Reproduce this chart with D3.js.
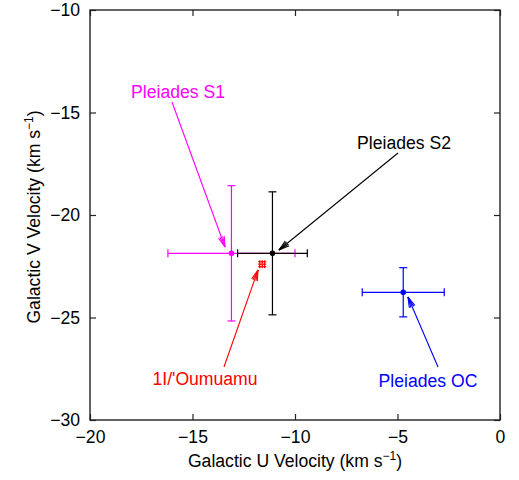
<!DOCTYPE html>
<html><head><meta charset="utf-8">
<script src="https://cdn.jsdelivr.net/npm/d3@7"></script>
<style>body{margin:0;background:#fff}svg{display:block}text{font-family:"Liberation Sans",Arial,Helvetica,sans-serif}</style>
</head><body>
<svg id="c" width="519" height="480"></svg>
<script>
// ---- data ----
const names   = ["Pleiades S1", "Pleiades S2", "1I/'Oumuamu", "Pleiades OC"];
const uValues = [-13.1, -11.1, -11.6, -4.72];
const vValues = [-21.87, -21.87, -22.4, -23.77];
const uErrors = [3.1, 1.7, 0.12, 2.0];
const vErrors = [3.3, 3.0, 0.12, 1.2];
const colors  = ["#ff00ff", "#000000", "#ff0000", "#0000ff"];
const xTicks  = [-20, -15, -10, -5, 0];
const yTicks  = [-30, -25, -20, -15, -10];

// ---- layout (pixels) ----
const layout = {
  left: 90, right: 500, top: 10, bottom: 420,
  labels: [
    {x: 178, y: 98,  sx: 172, sy: 102, tx: 225, ty: 247},
    {x: 404, y: 149, sx: 398, sy: 153, tx: 279, ty: 250},
    {x: 205, y: 385, sx: 224, sy: 367, tx: 258, ty: 270},
    {x: 428, y: 387, sx: 438, sy: 367, tx: 408, ty: 297}
  ]
};

const svg = d3.select("#c");
const x = d3.scaleLinear().domain([-20, 0]).range([layout.left, layout.right]);
const y = d3.scaleLinear().domain([-30, -10]).range([layout.bottom, layout.top]);
const fmt = d3.format("d");
const FS = 17.6;

// frame
svg.append("rect").attr("x", layout.left).attr("y", layout.top)
  .attr("width", layout.right - layout.left).attr("height", layout.bottom - layout.top)
  .attr("fill", "none").attr("stroke", "#222").attr("stroke-width", 1.4);

const tl = 6;
const axB = d3.axisBottom(x).tickValues(xTicks).tickSize(-tl).tickFormat(fmt).tickPadding(11);
const axT = d3.axisTop(x).tickValues(xTicks).tickSize(-tl).tickFormat("");
const axL = d3.axisLeft(y).tickValues(yTicks).tickSize(-tl).tickFormat(fmt).tickPadding(10);
const axR = d3.axisRight(y).tickValues(yTicks).tickSize(-tl).tickFormat("");
function styleAxis(g){
  g.select(".domain").remove();
  g.selectAll("line").attr("stroke", "#222").attr("stroke-width", 1.2);
  g.selectAll("text").attr("font-size", FS).attr("fill", "#000")
    .attr("font-family", '"Liberation Sans",Arial,sans-serif');
}
svg.append("g").attr("transform", `translate(0,${layout.bottom})`).call(axB).call(styleAxis);
svg.append("g").attr("transform", `translate(0,${layout.top})`).call(axT).call(styleAxis);
svg.append("g").attr("transform", `translate(${layout.left},0)`).call(axL).call(styleAxis);
svg.append("g").attr("transform", `translate(${layout.right},0)`).call(axR).call(styleAxis);
svg.selectAll("g text").attr("font-size", FS);

// axis titles
const xt = svg.append("text").attr("x", (layout.left + layout.right) / 2).attr("y", 467)
  .attr("text-anchor", "middle").attr("font-size", FS);
xt.append("tspan").text("Galactic U Velocity (km s");
xt.append("tspan").attr("font-size", 12).attr("dy", -7).text("−1");
xt.append("tspan").attr("dy", 7).text(")");

const yt = svg.append("text").attr("transform", "translate(40,217) rotate(-90)")
  .attr("text-anchor", "middle").attr("font-size", FS);
yt.append("tspan").text("Galactic V Velocity (km s");
yt.append("tspan").attr("font-size", 12).attr("dy", -7).text("−1");
yt.append("tspan").attr("dy", 7).text(")");

// error bars and points
const cap = 4;
names.forEach((n, i) => {
  const g = svg.append("g").attr("stroke", colors[i]).attr("stroke-width", 1.2);
  const cx = x(uValues[i]), cy = y(vValues[i]);
  const x0 = x(uValues[i] - uErrors[i]), x1 = x(uValues[i] + uErrors[i]);
  const y0 = y(vValues[i] - vErrors[i]), y1 = y(vValues[i] + vErrors[i]);
  g.append("line").attr("x1", Math.min(x0, cx - cap)).attr("x2", Math.max(x1, cx + cap)).attr("y1", cy).attr("y2", cy);
  g.append("line").attr("x1", cx).attr("x2", cx).attr("y1", Math.max(y0, cy + cap)).attr("y2", Math.min(y1, cy - cap));
  [x0, x1].forEach(xx => g.append("line").attr("x1", xx).attr("x2", xx).attr("y1", cy - cap).attr("y2", cy + cap));
  [y0, y1].forEach(yy => g.append("line").attr("y1", yy).attr("y2", yy).attr("x1", cx - cap).attr("x2", cx + cap));
  if (i !== 2) g.append("circle").attr("cx", cx).attr("cy", cy).attr("r", 2.8).attr("fill", colors[i]).attr("stroke", "none");
});

// annotations
names.forEach((n, i) => {
  const L = layout.labels[i];
  svg.append("text").attr("x", L.x).attr("y", L.y).attr("text-anchor", "middle")
    .attr("font-size", FS).attr("fill", colors[i]).text(n);
  const g = svg.append("g").attr("stroke", colors[i]).attr("stroke-width", 1.1).attr("fill", "none");
  g.append("line").attr("x1", L.sx).attr("y1", L.sy).attr("x2", L.tx).attr("y2", L.ty);
  const ang = Math.atan2(L.ty - L.sy, L.tx - L.sx);
  const hl = 11, ha = 0.28;
  [-ha, -ha/2, ha/2, ha].forEach(d => {
    g.append("line").attr("x1", L.tx).attr("y1", L.ty)
      .attr("x2", L.tx - hl * Math.cos(ang + d)).attr("y2", L.ty - hl * Math.sin(ang + d));
  });
});
</script>
</body></html>
